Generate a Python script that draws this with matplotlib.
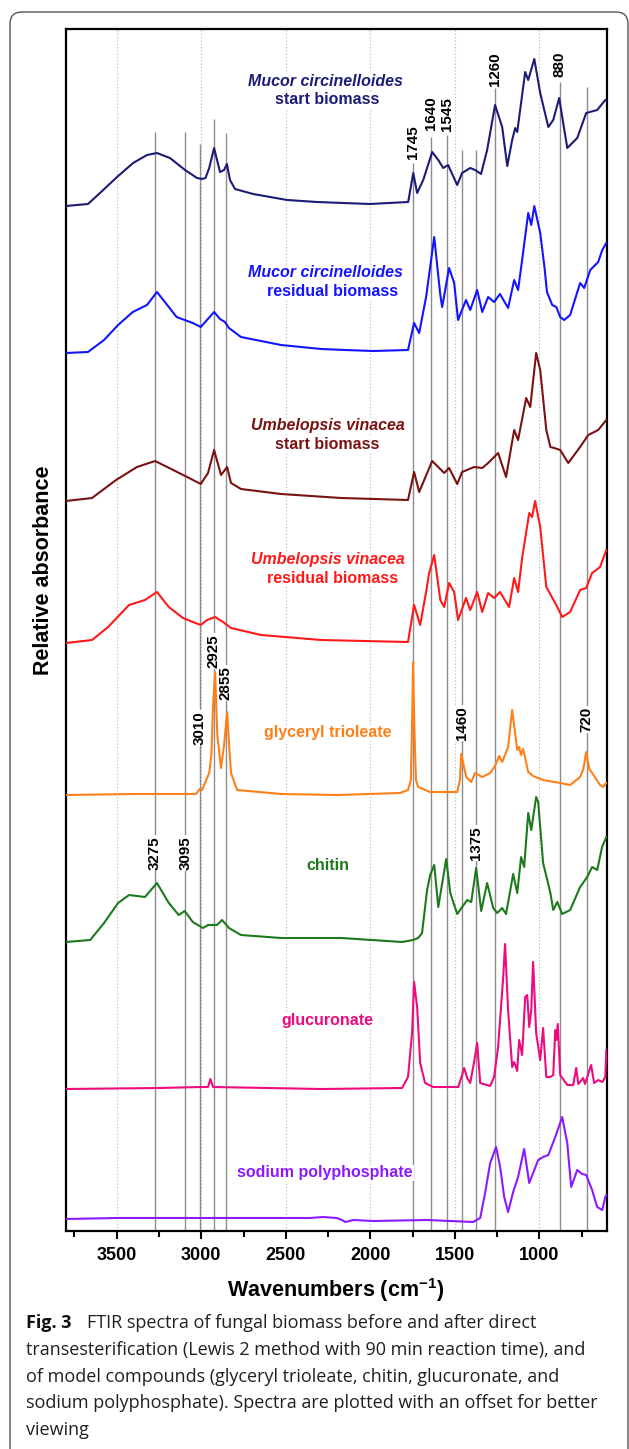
import numpy as np
import matplotlib
matplotlib.use('Agg')
import matplotlib.pyplot as plt
from matplotlib.patches import FancyBboxPatch

plt.rcParams['font.family'] = ['Liberation Sans', 'DejaVu Sans']
plt.rcParams['mathtext.fontset'] = 'custom'
plt.rcParams['mathtext.rm'] = 'Liberation Sans:bold'
plt.rcParams['mathtext.default'] = 'rm'

# spectra: wavenumber (cm-1) and absorbance above each baseline
mucor_start_wn = [3800, 3670, 3599, 3498, 3403, 3321, 3262, 3185, 3096, 3025, 2995, 2975, 2953, 2924, 2889,
                  2865, 2848, 2830, 2800, 2693, 2492, 2315, 2161, 2001, 1776, 1746, 1723, 1687, 1634, 1598,
                  1569, 1540, 1486, 1457, 1409, 1380, 1345, 1309, 1262, 1220, 1190, 1161, 1143, 1131, 1084,
                  1066, 1030, 995, 947, 918, 883, 835, 776, 723, 658, 610, 600]
mucor_start_abs = [0.0, 0.2, 1.3, 2.9, 4.3, 5.1, 5.3, 4.8, 3.6, 2.8, 2.7, 2.8, 3.8, 5.8, 3.4,
                   3.6, 4.2, 2.6, 1.7, 1.2, 0.6, 0.4, 0.3, 0.2, 0.4, 3.3, 1.3, 2.6, 5.4, 4.6,
                   3.8, 4.1, 2.1, 3.3, 3.8, 3.6, 3.2, 5.6, 10.1, 7.9, 4.0, 6.6, 7.8, 7.4, 13.4,
                   12.6, 14.7, 11.3, 7.9, 8.6, 10.8, 5.8, 6.8, 9.3, 9.6, 10.6, 10.6]

mucor_res_wn = [3800, 3670, 3575, 3492, 3405, 3321, 3262, 3192, 3146, 3098, 3050, 3003, 2966, 2924, 2889,
                2860, 2836, 2765, 2528, 2291, 2149, 1983, 1777, 1741, 1711, 1670, 1622, 1586, 1575, 1534,
                1504, 1481, 1434, 1409, 1368, 1338, 1303, 1268, 1233, 1185, 1149, 1126, 1102, 1066, 1048,
                1030, 995, 970, 955, 924, 900, 877, 853, 818, 759, 735, 699, 652, 628, 604]
mucor_res_abs = [0.0, 0.1, 1.3, 2.8, 4.1, 4.8, 6.1, 4.6, 3.6, 3.3, 3.0, 2.6, 3.3, 4.1, 3.4,
                 3.1, 2.5, 1.6, 0.8, 0.4, 0.3, 0.2, 0.3, 3.0, 2.0, 5.6, 11.6, 5.8, 4.6, 8.5,
                 7.0, 3.3, 5.3, 4.3, 6.3, 4.1, 5.6, 5.1, 5.9, 4.5, 7.3, 6.3, 9.3, 14.0, 12.8,
                 14.7, 12.0, 8.6, 6.1, 4.8, 4.6, 3.6, 3.3, 3.8, 7.0, 6.5, 8.3, 9.1, 10.3, 11.0]

umb_start_wn = [3800, 3646, 3504, 3380, 3273, 3166, 3072, 3003, 2960, 2924, 2883, 2847, 2824, 2765, 2528,
                2172, 1777, 1741, 1711, 1634, 1563, 1534, 1486, 1457, 1386, 1338, 1303, 1244, 1197, 1149,
                1126, 1078, 1054, 1019, 995, 959, 935, 912, 877, 829, 759, 711, 652, 604]
umb_start_abs = [0.0, 0.3, 2.1, 3.4, 4.0, 3.1, 2.3, 1.7, 2.8, 5.1, 2.6, 3.4, 1.8, 1.2, 0.7,
                 0.3, 0.1, 2.9, 0.9, 4.0, 2.8, 3.3, 1.7, 2.9, 3.4, 3.3, 3.8, 4.8, 2.4, 7.1,
                 6.1, 10.3, 9.4, 14.8, 13.1, 7.1, 5.4, 5.3, 5.1, 3.8, 5.4, 6.6, 7.1, 8.1]

umb_res_wn = [3800, 3646, 3551, 3427, 3333, 3262, 3192, 3108, 3050, 3003, 2966, 2918, 2871, 2824, 2646,
              2291, 1777, 1741, 1705, 1670, 1652, 1622, 1586, 1563, 1534, 1504, 1481, 1434, 1409, 1368,
              1338, 1303, 1268, 1233, 1179, 1149, 1126, 1102, 1060, 1043, 1025, 995, 959, 900, 865,
              818, 759, 723, 688, 641, 604]
umb_res_abs = [0.0, 0.3, 1.6, 3.8, 4.3, 5.1, 3.6, 2.5, 2.1, 1.8, 2.3, 2.6, 2.1, 1.5, 0.8,
               0.3, 0.1, 3.8, 1.8, 5.1, 7.0, 8.8, 4.3, 3.6, 6.0, 5.1, 2.3, 4.5, 3.3, 5.1,
               3.1, 5.0, 4.5, 5.1, 3.6, 6.5, 5.1, 8.5, 13.0, 12.6, 14.2, 11.6, 5.6, 3.8, 2.6,
               3.1, 5.3, 5.5, 7.0, 7.6, 9.3]

gly_wn = [3800, 3400, 3098, 3030, 3009, 2995, 2953, 2940, 2930, 2918, 2905, 2883, 2865, 2847, 2835,
          2824, 2788, 2528, 2200, 1824, 1777, 1760, 1752, 1747, 1740, 1730, 1717, 1646, 1486, 1470,
          1462, 1433, 1403, 1380, 1338, 1291, 1262, 1238, 1220, 1185, 1161, 1131, 1120, 1108, 1096,
          1066, 1037, 978, 877, 818, 759, 740, 723, 705, 688, 641, 623, 604]
gly_abs = [0.0, 0.1, 0.1, 0.1, 0.6, 0.5, 2.2, 4.0, 9.0, 12.3, 6.0, 2.7, 5.0, 8.3, 5.0,
           2.2, 0.5, 0.1, 0.0, 0.2, 0.5, 1.5, 8.0, 13.3, 7.0, 1.5, 0.8, 0.3, 0.3, 1.5,
           4.1, 1.8, 1.3, 2.2, 1.8, 2.2, 2.9, 3.9, 3.3, 4.8, 8.5, 4.5, 4.8, 4.0, 4.6,
           2.3, 1.9, 1.5, 1.2, 1.0, 1.8, 2.6, 4.3, 2.6, 2.2, 1.0, 0.8, 1.2]

chitin_wn = [3800, 3657, 3575, 3492, 3427, 3333, 3262, 3192, 3133, 3098, 3050, 2990, 2960, 2907, 2877,
             2836, 2765, 2528, 2172, 1812, 1747, 1717, 1694, 1664, 1646, 1622, 1598, 1551, 1527, 1486,
             1427, 1403, 1374, 1344, 1309, 1273, 1250, 1220, 1197, 1155, 1131, 1108, 1090, 1066, 1048,
             1019, 1007, 978, 953, 935, 918, 894, 865, 818, 759, 717, 688, 658, 629, 604]
chitin_abs = [0.0, 0.2, 1.9, 3.9, 4.7, 4.5, 5.9, 3.9, 2.7, 3.1, 2.0, 1.4, 1.7, 1.7, 2.2,
              1.4, 0.7, 0.4, 0.4, 0.0, 0.2, 0.4, 0.9, 5.2, 6.7, 7.7, 3.5, 8.3, 4.9, 2.8,
              4.2, 4.0, 7.4, 3.1, 5.9, 3.4, 2.9, 3.4, 2.8, 6.8, 4.9, 8.5, 7.5, 12.9, 11.2,
              14.5, 14.0, 7.9, 6.2, 4.9, 3.2, 4.0, 2.8, 3.2, 5.5, 6.5, 7.5, 7.2, 9.5, 10.5]

gluc_wn = [3800, 3250, 3003, 2960, 2946, 2930, 2291, 1812, 1777, 1753, 1741, 1723, 1705, 1676, 1628,
           1480, 1457, 1445, 1427, 1409, 1386, 1368, 1350, 1291, 1268, 1244, 1214, 1203, 1185, 1161,
           1149, 1131, 1120, 1102, 1084, 1072, 1060, 1048, 1037, 1019, 995, 978, 959, 935, 918,
           906, 900, 891, 877, 835, 800, 782, 770, 741, 730, 694, 676, 652, 628, 610, 604]
gluc_abs = [0.0, 0.1, 0.2, 0.2, 1.0, 0.2, 0.0, 0.1, 1.2, 5.6, 10.7, 8.2, 2.6, 0.6, 0.2,
            0.2, 1.4, 2.1, 1.1, 0.6, 2.7, 4.6, 0.6, 0.3, 1.2, 4.2, 11.2, 14.5, 7.9, 2.2,
            2.7, 1.8, 4.9, 3.4, 9.2, 9.4, 6.2, 7.9, 12.7, 5.6, 2.9, 6.1, 1.2, 1.2, 1.4,
            5.9, 4.9, 6.5, 1.4, 0.4, 0.4, 2.1, 0.5, 1.1, 0.5, 2.4, 0.6, 0.9, 0.7, 1.2, 3.9]

poly_wn = [3800, 3500, 3000, 2600, 2356, 2279, 2200, 2167, 2149, 2100, 1983, 1664, 1392, 1350, 1321,
           1291, 1256, 1232, 1208, 1185, 1155, 1126, 1090, 1060, 1037, 1007, 978, 947, 906, 865,
           835, 812, 776, 747, 723, 688, 658, 628, 610, 604]
poly_abs = [0.0, 0.1, 0.1, 0.1, 0.1, 0.2, 0.1, -0.1, -0.3, -0.1, -0.2, -0.1, -0.3, 0.1, 2.6,
            5.6, 7.2, 5.2, 2.2, 0.7, 2.7, 4.2, 7.0, 3.6, 4.6, 5.9, 6.2, 6.4, 8.2, 10.2,
            7.6, 3.2, 4.9, 4.5, 4.4, 2.9, 1.2, 0.9, 2.2, 2.4]

spec_wn = [mucor_start_wn, mucor_res_wn, umb_start_wn, umb_res_wn, gly_wn, chitin_wn, gluc_wn, poly_wn]
spec_abs = [mucor_start_abs, mucor_res_abs, umb_start_abs, umb_res_abs, gly_abs, chitin_abs, gluc_abs, poly_abs]
offsets = [102.5, 87.8, 73.0, 58.8, 43.6, 28.9, 14.2, 1.2]
colors = ['#1c1c78', '#1414ff', '#7a1212', '#ff1a1a', '#ff8019', '#1c7a1c', '#ee0a80', '#8c1aff']

# marked bands
peak_wn = [3275, 3095, 3010, 2925, 2855, 1745, 1640, 1545, 1460, 1375, 1260, 880, 720]
peak_top = [109.9, 109.9, 108.7, 111.2, 109.8, 106.8, 109.4, 109.6, 108.1, 108.1, 114.3, 114.9, 114.4]
peak_label_y = [36.1, 36.1, 48.6, 56.3, 53.1, 107.2, 110.1, 110.0, 49.1, 37.1, 114.5, 115.4, 49.9]

fig = plt.figure(figsize=(6.29, 14.49), dpi=100)

# rounded page frame
bg = fig.add_axes([0, 0, 1, 1])
bg.set_xlim(0, 629)
bg.set_ylim(1449, 0)
bg.axis('off')
bg.add_patch(FancyBboxPatch((10, 12), 618, 1470, boxstyle='round,pad=0,rounding_size=12',
                            fc='none', ec='#555555', lw=1.0))

ax = fig.add_axes([66/629, 1-1231/1449, 541/629, 1202/1449])
ax.set_xlim(3800, 600)
ax.set_ylim(0, 120.2)

for g in [3500, 3000, 2500, 2000, 1500, 1000]:
    ax.axvline(g, color='#b4b4b4', lw=0.8, ls=(0, (1, 2)), zorder=0)
ax.vlines(peak_wn, 0, peak_top, color='#8c8c8c', lw=1.0, zorder=1)

for wn, a, off, c in zip(spec_wn, spec_abs, offsets, colors):
    ax.plot(wn, np.array(a) + off, color=c, lw=1.5, zorder=3)

for w, y in zip(peak_wn, peak_label_y):
    ax.text(w, y, str(w), rotation=90, ha='center', va='bottom', fontsize=10.9, fontweight='bold',
            bbox=dict(fc='white', ec='none', pad=0.6), zorder=2)

box = dict(fc='white', ec='none', pad=0.5)
# two-line sample names
ax.text(2267, 114.9, 'Mucor circinelloides', color=colors[0], fontsize=11.5, fontweight='bold',
        style='italic', ha='center', va='center', bbox=box, zorder=2)
ax.text(2256, 113.1, 'start biomass', color=colors[0], fontsize=11.5, fontweight='bold',
        ha='center', va='center', bbox=box, zorder=2)
ax.text(2267, 95.8, 'Mucor circinelloides', color=colors[1], fontsize=11.5, fontweight='bold',
        style='italic', ha='center', va='center', bbox=box, zorder=2)
ax.text(2223, 93.9, 'residual biomass', color=colors[1], fontsize=11.5, fontweight='bold',
        ha='center', va='center', bbox=box, zorder=2)
ax.text(2253, 80.5, 'Umbelopsis vinacea', color=colors[2], fontsize=11.5, fontweight='bold',
        style='italic', ha='center', va='center', bbox=box, zorder=2)
ax.text(2253, 78.6, 'start biomass', color=colors[2], fontsize=11.5, fontweight='bold',
        ha='center', va='center', bbox=box, zorder=2)
ax.text(2253, 67.1, 'Umbelopsis vinacea', color=colors[3], fontsize=11.5, fontweight='bold',
        style='italic', ha='center', va='center', bbox=box, zorder=2)
ax.text(2223, 65.2, 'residual biomass', color=colors[3], fontsize=11.5, fontweight='bold',
        ha='center', va='center', bbox=box, zorder=2)
# model compounds
ax.text(2253, 49.8, 'glyceryl trioleate', color=colors[4], fontsize=11.5, fontweight='bold',
        ha='center', va='center', bbox=box, zorder=2)
ax.text(2253, 36.5, 'chitin', color=colors[5], fontsize=11.5, fontweight='bold',
        ha='center', va='center', bbox=box, zorder=2)
ax.text(2253, 21.1, 'glucuronate', color=colors[6], fontsize=11.5, fontweight='bold',
        ha='center', va='center', bbox=box, zorder=2)
ax.text(2267, 5.8, 'sodium polyphosphate', color=colors[7], fontsize=11.5, fontweight='bold',
        ha='center', va='center', bbox=box, zorder=2)

ax.set_xticks([3500, 3000, 2500, 2000, 1500, 1000])
ax.set_xticks(np.arange(3750, 600, -250), minor=True)
ax.set_yticks([])
ax.tick_params(axis='x', which='major', direction='out', length=5.8, width=1.5, labelsize=13, pad=6)
ax.tick_params(axis='x', which='minor', direction='out', length=4.5, width=1.5)
for lbl in ax.get_xticklabels():
    lbl.set_fontweight('bold')
for s in ax.spines.values():
    s.set_linewidth(1.6)

fig.text(336/629, 1-1290/1449, r'Wavenumbers (cm$^{-1}$)', ha='center', va='center',
         fontsize=15.5, fontweight='bold')
fig.text(44/629, 1-570/1449, 'Relative absorbance', rotation=90, ha='center', va='center',
         fontsize=15.5, fontweight='bold')

# caption
cap_font = 'Open Sans'
fig.text(26/629, 1-1328/1449, 'Fig. 3', fontsize=13, fontweight='bold', family=cap_font,
         va='baseline', color='#111111')
fig.text(87/629, 1-1328/1449, 'FTIR spectra of fungal biomass before and after direct',
         fontsize=13, family=cap_font, va='baseline', color='#231f20')
caption_rest = ['transesterification (Lewis 2 method with 90 min reaction time), and',
                'of model compounds (glyceryl trioleate, chitin, glucuronate, and',
                'sodium polyphosphate). Spectra are plotted with an offset for better',
                'viewing']
for i, line in enumerate(caption_rest):
    fig.text(26/629, 1-(1355 + 26.75*i)/1449, line, fontsize=13, family=cap_font,
             va='baseline', color='#231f20')

fig.savefig('out.png', dpi=100)
